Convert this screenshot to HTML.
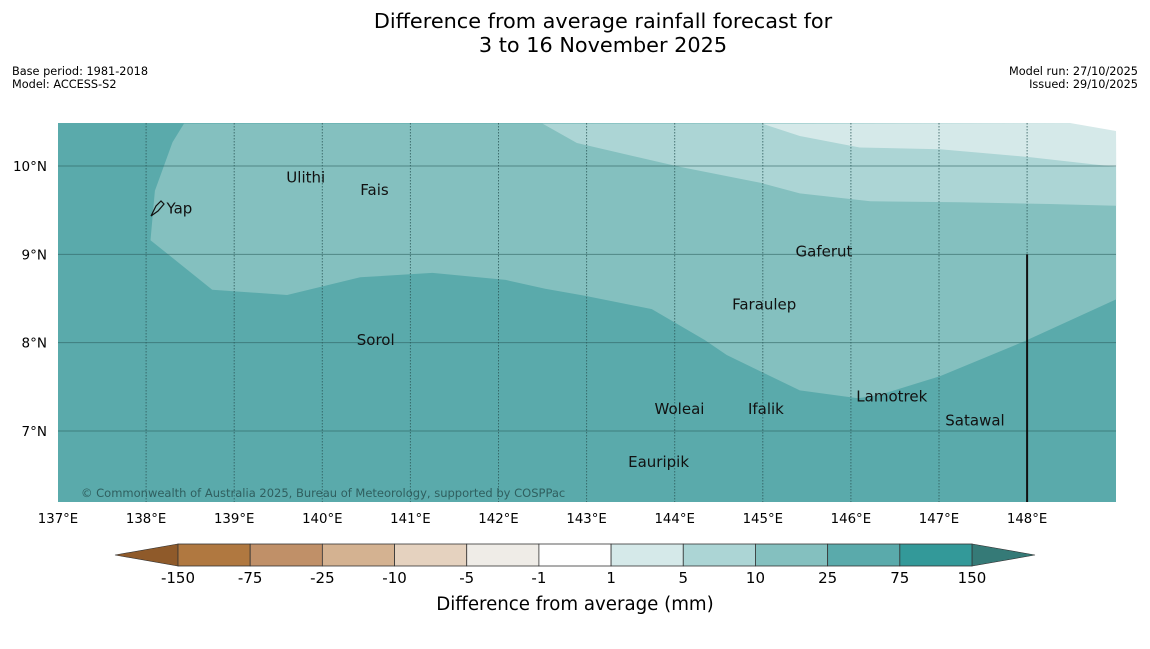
<!DOCTYPE html>
<html><head><meta charset="utf-8"><style>
body{margin:0;background:#fff;width:1150px;height:644px;overflow:hidden;font-family:"Liberation Sans","DejaVu Sans",sans-serif}
svg text{font-family:"DejaVu Sans","Liberation Sans",sans-serif}
</style></head><body>
<svg id="c" width="1150" height="644">
<text x="603" y="28" font-size="20.8" text-anchor="middle">Difference from average rainfall forecast for</text>
<text x="603" y="52" font-size="20.8" text-anchor="middle">3 to 16 November 2025</text>
<text x="12" y="75" font-size="11.3">Base period: 1981-2018</text>
<text x="12" y="88" font-size="11.3">Model: ACCESS-S2</text>
<text x="1138" y="75" font-size="11.3" text-anchor="end">Model run: 27/10/2025</text>
<text x="1138" y="88" font-size="11.3" text-anchor="end">Issued: 29/10/2025</text>
<g id="map"></g>
<g id="cbar"></g>
<text x="575" y="610" font-size="18.2" text-anchor="middle">Difference from average (mm)</text>
</svg>
<script>
const lonTicks=[137,138,139,140,141,142,143,144,145,146,147,148];
const latTicks=[7,8,9,10];
const levels=["-150","-75","-25","-10","-5","-1","1","5","10","25","75","150"];
const levelColors=["#b07840","#c09068","#d4b291","#e5d2bf","#efece7","#ffffff","#d5e9e9","#acd5d5","#84c0bf","#5aaaab","#339999"];
const placeNames=["Yap","Ulithi","Fais","Gaferut","Faraulep","Sorol","Woleai","Ifalik","Lamotrek","Satawal","Eauripik"];
const placeLon=[138.22,139.58,140.42,145.36,144.64,140.38,143.76,144.82,146.05,147.06,143.46];
const placeLat=[9.52,9.87,9.73,9.03,8.43,8.03,7.25,7.25,7.39,7.12,6.65];
// contour boundaries (lon,lat)
const band25=[[138.43,10.48],[138.3,10.27],[138.1,9.72],[138.05,9.16],[138.75,8.6],[139.6,8.54],[140.43,8.74],[141.25,8.79],[142.08,8.71],[142.53,8.61],[142.98,8.53],[143.74,8.38],[144.34,8.03],[144.59,7.86],[145.42,7.46],[146.08,7.37],[146.33,7.41],[147.01,7.62],[147.98,8.02],[149.01,8.49]];
const band10=[[142.5,10.48],[142.89,10.26],[144.06,9.99],[144.97,9.81],[145.42,9.69],[146.22,9.6],[147.24,9.59],[148.25,9.57],[149.01,9.55]];
const band5=[[144.99,10.48],[145.42,10.34],[146.1,10.21],[147.01,10.19],[148.04,10.1],[149.01,9.99]];
const X=lon=>58+(lon-137)*88.1;
const Y=lat=>166+(10-lat)*88.33;
const NS="http://www.w3.org/2000/svg";
const map=document.getElementById('map');
function mk(t,a,p){const e=document.createElementNS(NS,t);for(const k in a)e.setAttribute(k,a[k]);(p||map).appendChild(e);return e;}
const L=58,R=1116,T=123,B=502;
let e=mk('rect',{x:L,y:T,width:R-L,height:B-T,fill:'#5aaaab'});


function poly(pts,close,fill,name){const d=pts.map(p=>X(p[0]).toFixed(1)+','+Y(p[1]).toFixed(1)).join(' ')+' '+close;const el=mk('polygon',{points:d,fill:fill});

}
poly(band25,`${R},${T}`,'#84c0bf','contour-10-25');
poly(band10,`${R},${T}`,'#acd5d5','contour-5-10');
poly(band5,`${R},${T}`,'#d5e9e9','contour-1-5');
e=mk('polygon',{points:`1070,${T} ${R},131 ${R},${T}`,fill:'#fff'});


lonTicks.forEach(l=>{const x=X(l);
if(l>137){e=mk('line',{x1:x,y1:T,x2:x,y2:B,stroke:'#2d5a5a','stroke-width':1,'stroke-dasharray':'1.5,1.5',opacity:.8});

}
e=mk('text',{x:x,y:523,'font-size':13.3,'text-anchor':'middle'});e.textContent=l+'°E';

});
latTicks.forEach(l=>{const y=Y(l);
e=mk('line',{x1:L,y1:y,x2:R,y2:y,stroke:'#2d6060','stroke-width':1,opacity:.6});


e=mk('text',{x:47,y:y+5,'font-size':13.5,'text-anchor':'end'});e.textContent=l+'°N';

});
e=mk('line',{x1:X(148),y1:Y(9),x2:X(148),y2:B,stroke:'#111','stroke-width':2});


e=mk('path',{d:'M151,216 L156,206 L161,201 L164,204 L158,211 Z',fill:'none',stroke:'#111','stroke-width':1.2});


placeNames.forEach((n,i)=>{const x=X(placeLon[i]),y=Y(placeLat[i]);
e=mk('text',{x:x+1,y:y+5,'font-size':15,fill:'#111'});e.textContent=n;

});
e=mk('text',{x:81,y:497,'font-size':11.5,fill:'#2f5f5f'});e.textContent='© Commonwealth of Australia 2025, Bureau of Meteorology, supported by COSPPac';


// colorbar
const cb=document.getElementById('cbar');
const cL=178,cR=972,cT=544,cB=566,w=(cR-cL)/levelColors.length;
e=mk('polygon',{points:`115,555 ${cL},${cT} ${cL},${cB}`,fill:'#8f5a2a',stroke:'#333','stroke-width':.6},cb);


e=mk('polygon',{points:`1035,555 ${cR},${cT} ${cR},${cB}`,fill:'#357a77',stroke:'#333','stroke-width':.6},cb);


levelColors.forEach((c,i)=>{e=mk('rect',{x:cL+i*w,y:cT,width:w,height:cB-cT,fill:c,stroke:'#333','stroke-width':.8},cb);

});
levels.forEach((v,i)=>{e=mk('text',{x:cL+i*w,y:583,'font-size':15,'text-anchor':'middle'},cb);e.textContent=v;

});
</script>
</body></html>
